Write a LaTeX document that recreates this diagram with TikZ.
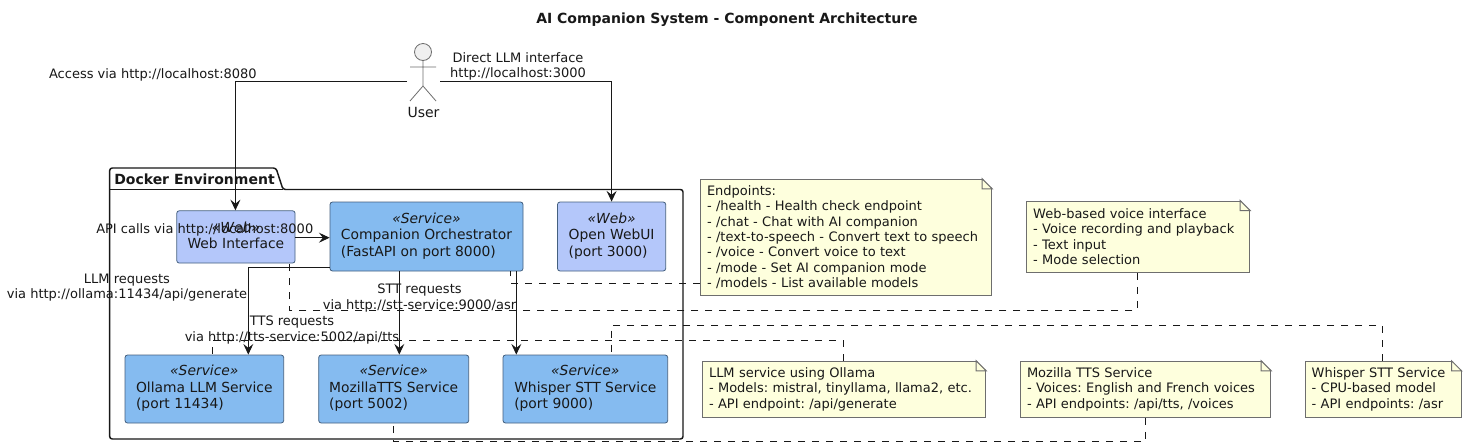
\documentclass[tikz,border=0pt]{standalone}
\usepackage{fontspec}
\setmainfont{DejaVu Sans}
\usetikzlibrary{arrows.meta}
\definecolor{svcfill}{HTML}{85BBF0}
\definecolor{webfill}{HTML}{B4C7FA}
\definecolor{boxline}{HTML}{44607F}
\definecolor{notefill}{HTML}{FEFFDD}
\definecolor{noteline}{HTML}{6E6E6E}
\definecolor{ink}{HTML}{181818}
\newcommand{\stereo}[2]{\begin{tabular}{@{}c@{}}{\itshape «#1»}\\\begin{tabular}[t]{@{}l@{}}#2\end{tabular}\end{tabular}}
\newcommand{\foldcorner}[1]{%
  \fill[white] ([xshift=-7.5pt,yshift=0.6pt]#1.north east) -- ([xshift=0.6pt,yshift=0.6pt]#1.north east) -- ([xshift=0.6pt,yshift=-7.5pt]#1.north east) -- cycle;
  \draw[noteline,line width=0.75pt,fill=notefill] ([xshift=-7.5pt]#1.north east) -- ([yshift=-7.5pt]#1.north east) -- ([xshift=-7.5pt,yshift=-7.5pt]#1.north east) -- cycle;}
\tikzset{
  x=0.75pt,y=-0.75pt,
  every node/.style={text=ink,font=\frenchspacing\fontsize{10.4pt}{12.2pt}\selectfont},
  sz/.style 2 args={minimum width=#1*0.75pt,minimum height=#2*0.75pt,inner sep=0pt},
  svcbox/.style={draw=boxline,line width=0.6pt,rounded corners=1.9pt,fill=svcfill},
  webbox/.style={draw=boxline,line width=0.6pt,rounded corners=1.9pt,fill=webfill},
  notebox/.style={draw=noteline,line width=0.75pt,fill=notefill,align=left,inner sep=0pt,font=\frenchspacing\fontsize{9.75pt}{11.5pt}\selectfont},
  lbl/.style={align=center,inner sep=0pt,font=\frenchspacing\fontsize{9.75pt}{11.5pt}\selectfont},
  arr/.style={draw=ink,line width=0.75pt,-{Stealth[length=8pt,width=7.5pt,inset=3pt]}},
  dsh/.style={draw=ink,line width=0.75pt,dash pattern=on 5.25pt off 5.25pt},
}
\begin{document}
\begin{tikzpicture}
\useasboundingbox (0,0) rectangle (1466,447);
\fill[white] (0,0) rectangle (1466,447);
\node[font=\fontsize{10.5pt}{12pt}\selectfont\bfseries,inner sep=0pt] (title) at (727,19.5) {AI Companion System - Component Architecture};

% package
\draw[ink,line width=1.1pt,rounded corners=1.9pt] (109.7,189.5) -- (109.7,168) -- (276,168) -- (283,189.5) -- (683,189.5) -- (683,439) -- (109.7,439) -- cycle;
\draw[ink,line width=1.1pt] (109.7,189.5) -- (283,189.5);
\node[font=\fontsize{10.5pt}{12pt}\selectfont\bfseries,inner sep=0pt,anchor=west] (pkg) at (114,179.5) {Docker Environment};

% actor
\node[draw=noteline,fill=black!6,line width=0.6pt,circle,minimum size=17*0.75pt,inner sep=0pt] (head) at (423,52) {};
\node[sz={32.5}{60}] (user) at (423.75,80) {};
\draw[noteline,line width=0.6pt] (head.south) -- (423,86) (410,67) -- (436,67) (410,101) -- (423,86) -- (436,101);
\node[lbl,font=\fontsize{10.5pt}{12pt}\selectfont] (userlbl) at (423.5,112) {User};

% components
\node[webbox,sz={118.3}{52.3}] (web) at (235.9,236.9) {\stereo{Web}{Web Interface}};
\node[svcbox,sz={193}{69}] (orch) at (426.5,236.5) {\stereo{Service}{Companion Orchestrator\\(FastAPI on port 8000)}};
\node[webbox,sz={108.2}{69}] (owui) at (611.6,236.5) {\stereo{Web}{Open WebUI\\(port 3000)}};
\node[svcbox,sz={158.7}{68}] (olla) at (204.35,389) {\stereo{Service}{Ollama LLM Service\\(port 11434)}};
\node[svcbox,sz={150}{68}] (tts) at (393.7,389) {\stereo{Service}{MozillaTTS Service\\(port 5002)}};
\node[svcbox,sz={164.7}{68}] (stt) at (585.35,389) {\stereo{Service}{Whisper STT Service\\(port 9000)}};

% notes
\node[notebox,sz={291.4}{116},text width=278*0.75pt] (nend) at (846,237.3) {\raisebox{0pt}[\height][\depth]{}Endpoints:\\- /health - Health check endpoint\\- /chat - Chat with AI companion\\- /text-to-speech - Convert text to speech\\- /voice - Convert voice to text\\- /mode - Set AI companion mode\\- /models - List available models};
\node[notebox,sz={223}{71.3},text width=210*0.75pt] (nweb) at (1138.2,236.7) {Web-based voice interface\\- Voice recording and playback\\- Text input\\- Mode selection};
\node[notebox,sz={283.4}{56},text width=270*0.75pt] (nllm) at (844,389.3) {LLM service using Ollama\\- Models: mistral, tinyllama, llama2, etc.\\- API endpoint: /api/generate};
\node[notebox,sz={250.4}{56},text width=237*0.75pt] (ntts) at (1145.5,389.3) {Mozilla TTS Service\\- Voices: English and French voices\\- API endpoints: /api/tts, /voices};
\node[notebox,sz={155.7}{56},text width=143*0.75pt] (nstt) at (1383.2,389.3) {Whisper STT Service\\- CPU-based model\\- API endpoints: /asr};
\foldcorner{nend}\foldcorner{nweb}\foldcorner{nllm}\foldcorner{ntts}\foldcorner{nstt}

% dashed note links
\draw[dsh] (nend.west |- 0,283.3) -- (510.7,283.3) -- (510.7,0 |- orch.south);
\draw[dsh] (1137.3,0 |- nweb.south) -- (1137.3,310) -- (289.3,310) -- (289.3,0 |- web.south);
\draw[dsh] (843.3,0 |- nllm.north) -- (843.3,340.3) -- (212.7,340.3) -- (212.7,0 |- olla.north);
\draw[dsh] (1145.7,0 |- ntts.south) -- (1145.7,441.3) -- (393.3,441.3) -- (393.3,0 |- tts.south);
\draw[dsh] (1382.3,0 |- nstt.north) -- (1382.3,325) -- (611.7,325) -- (611.7,0 |- stt.north);

% arrows
\draw[arr] (user.west |- 0,81) -- (235.4,81) -- (235.4,0 |- web.north);
\draw[arr] (user.east |- 0,81) -- (611.6,81) -- (owui.north);
\draw[arr] (web.east |- 0,237.7) -- (orch.west |- 0,237.7);
\draw[arr] (orch.west |- 0,267.3) -- (248.3,267.3) -- (248.3,0 |- olla.north);
\draw[arr] (399.3,0 |- orch.south) -- (399.3,0 |- tts.north);
\draw[arr] (516.3,0 |- orch.south) -- (516.3,0 |- stt.north);

% labels
\node[lbl,anchor=east] (l1) at (257,74.7) {Access via http://localhost:8080};
\node[lbl] (l2) at (518,66.5) {Direct LLM interface\\http://localhost:3000};
\node[lbl,anchor=west] (l3) at (96,230.3) {API calls via http://localhost:8000};
\node[lbl] (l4) at (127,287.7) {LLM requests\\via http://ollama:11434/api/generate};
\node[lbl] (l5) at (419.5,298) {STT requests\\via http://stt-service:9000/asr};
\node[lbl] (l6) at (292,330) {TTS requests\\via http://tts-service:5002/api/tts};
\end{tikzpicture}
\end{document}
